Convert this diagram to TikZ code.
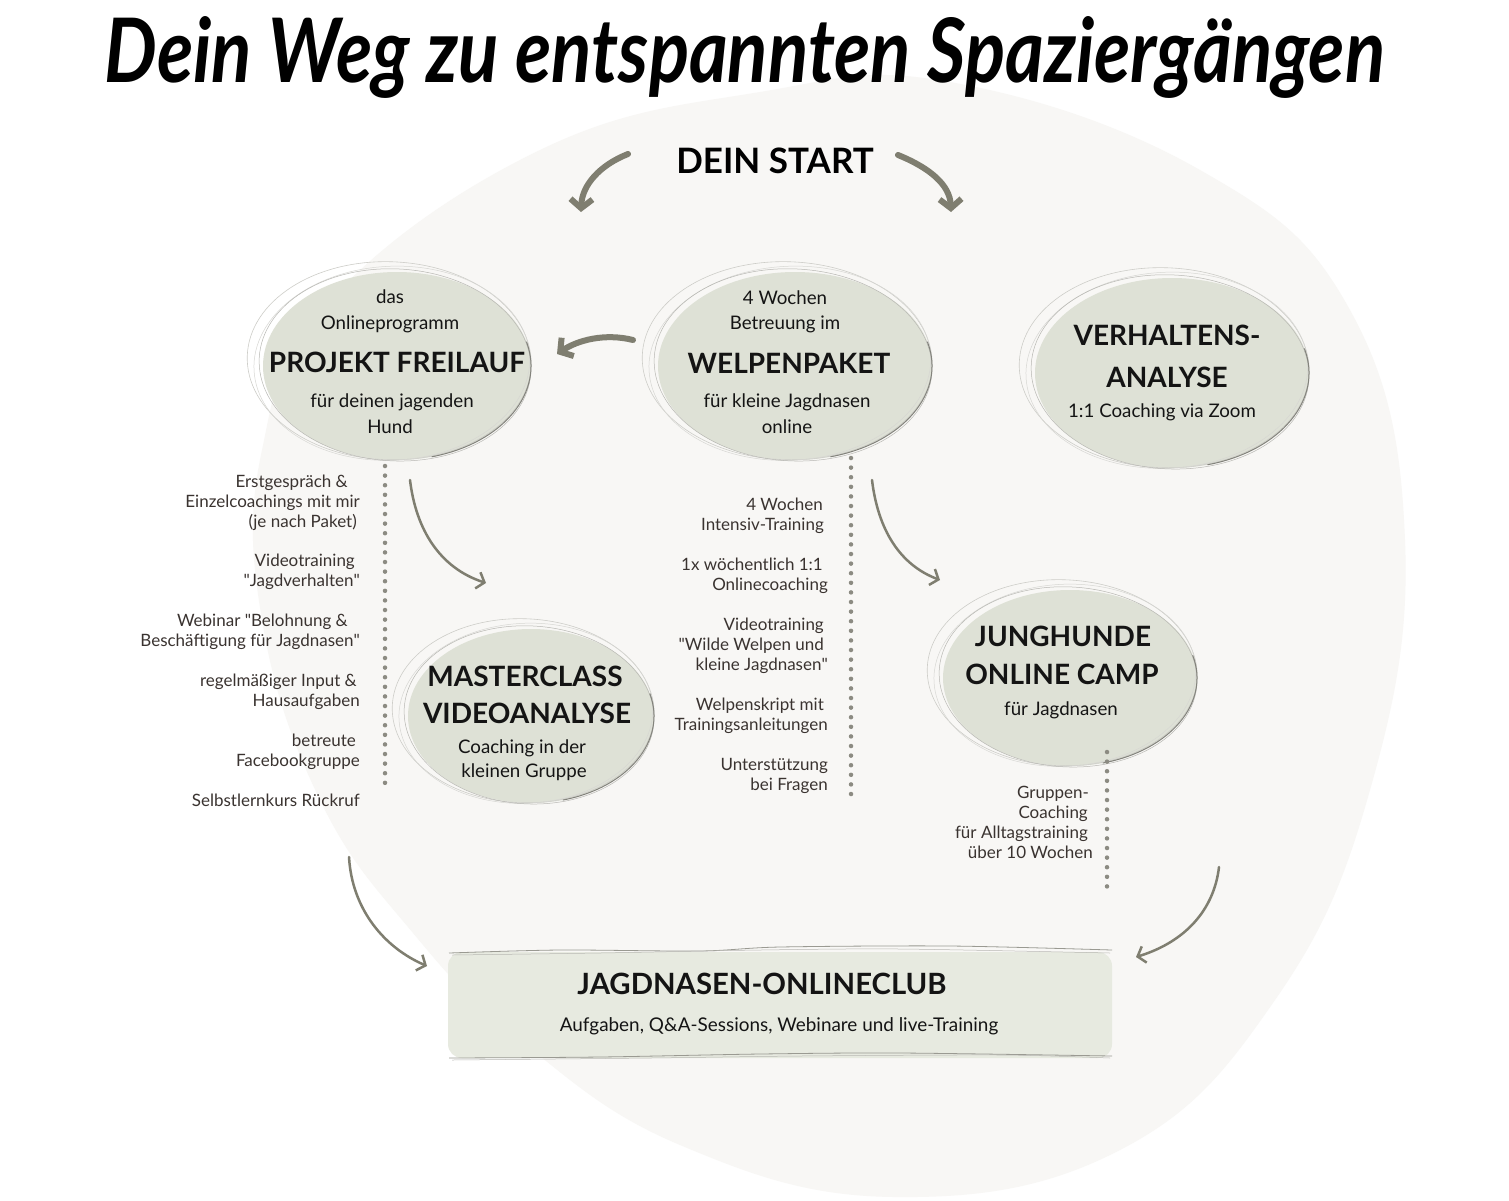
\documentclass[tikz,border=0pt]{standalone}
\usepackage{fontspec}
\setmainfont{Lato}
\usetikzlibrary{arrows.meta,shapes.geometric}
\definecolor{blobc}{HTML}{F8F7F5}
\definecolor{sage}{HTML}{DEE1D6}
\definecolor{boxc}{HTML}{E7EAE0}
\definecolor{arrc}{HTML}{7F7E70}
\definecolor{dotc}{HTML}{8C8B82}
\definecolor{listc}{HTML}{3A3330}
\definecolor{ringc}{HTML}{9A9A92}
\newcommand\qd{\textquotedbl}
\newcommand\sketchring[4]{%
  \begin{scope}[shift={(#1,#2)}]
    \draw[ringc!50, line width=0.6pt, rotate=-2] (-8,-5) ellipse [x radius=#3pt+8pt, y radius=#4pt+5pt];
    \draw[ringc!40, line width=0.5pt, rotate=3] (-5,-3) ellipse [x radius=#3pt+4pt, y radius=#4pt+3pt];
    \draw[ringc!70, line width=0.5pt, rotate=-3] (-2,-1) ellipse [x radius=#3pt+2pt, y radius=#4pt+2pt];
    \draw[ringc!85!black, line width=1pt] (-75:#3pt and #4pt) arc[start angle=-75, end angle=15, x radius=#3pt, y radius=#4pt];
  \end{scope}}
\begin{document}
\begin{tikzpicture}[x=1pt,y=-1pt,
  ellfill/.style={ellipse, fill=sage, inner sep=0pt},
  small/.style={font=\fontsize{18.7}{22}\selectfont, text=black!92, anchor=base, inner sep=0pt},
  ttl/.style={font=\bfseries\fontsize{28}{33}\selectfont, text=black!92, anchor=base, inner sep=0pt},
  lst/.style={font=\fontsize{17}{20}\selectfont, text=listc, anchor=base east, inner sep=0pt},
  brush/.style={draw=arrc, line width=6pt, line cap=round, -{Straight Barb[length=9pt,width=22pt]}},
  thin/.style={draw=arrc, line width=2.5pt, line cap=round, -{Straight Barb[length=7pt,width=17pt]}},
  dots/.style={draw=dotc, line width=4.5pt, line cap=round, dash pattern=on 0pt off 9.6pt}]
\useasboundingbox (0,0) rectangle (1509,1200);
\fill[white] (0,0) rectangle (1509,1200);
% background blob
\fill[blobc] plot[smooth cycle, tension=0.7] coordinates {(950,82) (1200,170) (1350,310) (1405,540) (1370,790) (1275,1000) (1120,1150) (894,1197) (680,1145) (520,1040) (413,933) (320,800) (262,620) (262,450) (330,300) (540,150) (760,92)};

% title
\node[anchor=base, inner sep=0pt] (title) at (745,82) {\resizebox{1280pt}{66pt}{\bfseries\itshape Dein Weg zu entspannten Spaziergängen}};

% start
\node[anchor=base, inner sep=0pt, font=\bfseries\fontsize{35}{40}\selectfont] (start) at (775,173) {DEIN START};
\coordinate (sL0) at (628,154); \coordinate (sL1) at (581,212);
\coordinate (sR0) at (898,155); \coordinate (sR1) at (951,212);
\draw[brush] (sL0) .. controls (600,165) and (582,185) .. (sL1);
\draw[brush] (sR0) .. controls (930,168) and (950,185) .. (sR1);

% ellipses
\node[ellfill, minimum width=268pt, minimum height=188pt] (pf) at (397,366) {};
\sketchring{397}{366}{134}{94}
\node[ellfill, minimum width=274pt, minimum height=188pt] (wp) at (795,366) {};
\sketchring{795}{366}{137}{94}
\node[ellfill, minimum width=274pt, minimum height=190pt] (va) at (1172,373) {};
\sketchring{1172}{373}{137}{95}
\node[ellfill, minimum width=246pt, minimum height=174pt] (mc) at (531,716) {};
\sketchring{531}{716}{123}{87}
\node[ellfill, minimum width=254pt, minimum height=176pt] (jh) at (1070,678) {};
\sketchring{1070}{678}{127}{88}

% texts ellipse 1
\node[small] (pf1) at (390,303) {das};
\node[small] (pf2) at (390,329) {Onlineprogramm};
\node[ttl] (pf3) at (397,372) {PROJEKT FREILAUF};
\node[small] (pf4) at (392,407) {für deinen jagenden};
\node[small] (pf5) at (390,433) {Hund};
% texts ellipse 2
\node[small] (wp1) at (785,304) {4 Wochen};
\node[small] (wp2) at (785,329) {Betreuung im};
\node[ttl] (wp3) at (789,373) {WELPENPAKET};
\node[small] (wp4) at (787,407) {für kleine Jagdnasen};
\node[small] (wp5) at (787,433) {online};
% texts ellipse 3
\node[ttl] (va1) at (1167,345) {VERHALTENS-};
\node[ttl] (va2) at (1167,387) {ANALYSE};
\node[small] (va3) at (1162,417) {1:1 Coaching via Zoom};
% texts ellipse 4
\node[ttl] (mc1) at (525,686) {MASTERCLASS};
\node[ttl] (mc2) at (527,723) {VIDEOANALYSE};
\node[small] (mc3) at (522,753) {Coaching in der};
\node[small] (mc4) at (524,777) {kleinen Gruppe};
% texts ellipse 5
\node[ttl] (jh1) at (1063,646) {JUNGHUNDE};
\node[ttl] (jh2) at (1062,684) {ONLINE CAMP};
\node[small] (jh3) at (1061,715) {für Jagdnasen};

% arrow welpen -> projekt
\coordinate (a30) at (633,340); \coordinate (a31) at (557,354);
\draw[brush] (a30) .. controls (605,333) and (578,340) .. (a31);

% thin arrows
\coordinate (a40) at (410,480); \coordinate (a41) at (486,583);
\draw[thin] (a40) .. controls (416,530) and (440,568) .. (a41);
\coordinate (a50) at (872,480); \coordinate (a51) at (940,580);
\draw[thin] (a50) .. controls (878,530) and (900,565) .. (a51);
\coordinate (a60) at (349,857); \coordinate (a61) at (427,966);
\draw[thin] (a60) .. controls (352,910) and (385,948) .. (a61);
\coordinate (a70) at (1219,867); \coordinate (a71) at (1136,957);
\draw[thin] (a70) .. controls (1214,910) and (1185,942) .. (a71);

% dotted lines
\coordinate (d10) at (385,466); \coordinate (d11) at (385,785);
\coordinate (d20) at (851,458); \coordinate (d21) at (851,798);
\coordinate (d30) at (1107,752); \coordinate (d31) at (1107,892);
\draw[dots] (d10) -- (d11);
\draw[dots] (d20) -- (d21);
\draw[dots] (d30) -- (d31);

% left list
\foreach \t/\xe/\yb [count=\i] in {
  {Erstgespräch \&}/348/487, {Einzelcoachings mit mir}/360/507, {(je nach Paket)}/357/527,
  {Videotraining}/355/566, {\qd Jagdverhalten\qd}/360/586,
  {Webinar \qd Belohnung \&}/348/626, {Beschäftigung für Jagdnasen\qd}/360/646,
  {regelmäßiger Input \&}/357/686, {Hausaufgaben}/360/706,
  {betreute}/356/746, {Facebookgruppe}/360/766,
  {Selbstlernkurs Rückruf}/360/806}
  \node[lst] (ll\i) at (\xe,\yb) {\t};

% middle list
\foreach \t/\xe/\yb [count=\i] in {
  {4 Wochen}/823/510, {Intensiv-Training}/824/530,
  {1x wöchentlich 1:1}/823/570, {Onlinecoaching}/828/590,
  {Videotraining}/824/630, {\qd Wilde Welpen und}/824/650, {kleine Jagdnasen\qd}/828/670,
  {Welpenskript mit}/824/710, {Trainingsanleitungen}/828/730,
  {Unterstützung}/828/770, {bei Fragen}/828/790}
  \node[lst] (ml\i) at (\xe,\yb) {\t};

% right list
\foreach \t/\xe/\yb [count=\i] in {
  {Gruppen-}/1089/798, {Coaching}/1088/818, {für Alltagstraining}/1088/838, {über 10 Wochen}/1093/858}
  \node[lst] (rl\i) at (\xe,\yb) {\t};

% club box
\node[rectangle, rounded corners=14pt, fill=boxc, minimum width=664pt, minimum height=106pt, inner sep=0pt] (club) at (780,1005) {};
\draw[ringc, line width=0.8pt] plot[smooth] coordinates {(449,953) (560,950) (700,951) (780,947) (950,946) (1112,950)};
\draw[ringc!70, line width=0.5pt] plot[smooth] coordinates {(452,955) (600,953) (760,950) (900,949) (1110,953)};
\draw[ringc, line width=0.8pt] plot[smooth] coordinates {(449,1058) (600,1057) (760,1054) (900,1053) (1112,1056)};
\draw[ringc!70, line width=0.5pt] plot[smooth] coordinates {(452,1060) (650,1058) (800,1056) (1000,1055) (1110,1058)};
\node[ttl, font=\bfseries\fontsize{29.3}{33}\selectfont] (club1) at (762,994) {JAGDNASEN-ONLINECLUB};
\node[small, font=\fontsize{18.9}{22}\selectfont] (club2) at (779,1031) {Aufgaben, Q\&A-Sessions, Webinare und live-Training};
\end{tikzpicture}
\end{document}
